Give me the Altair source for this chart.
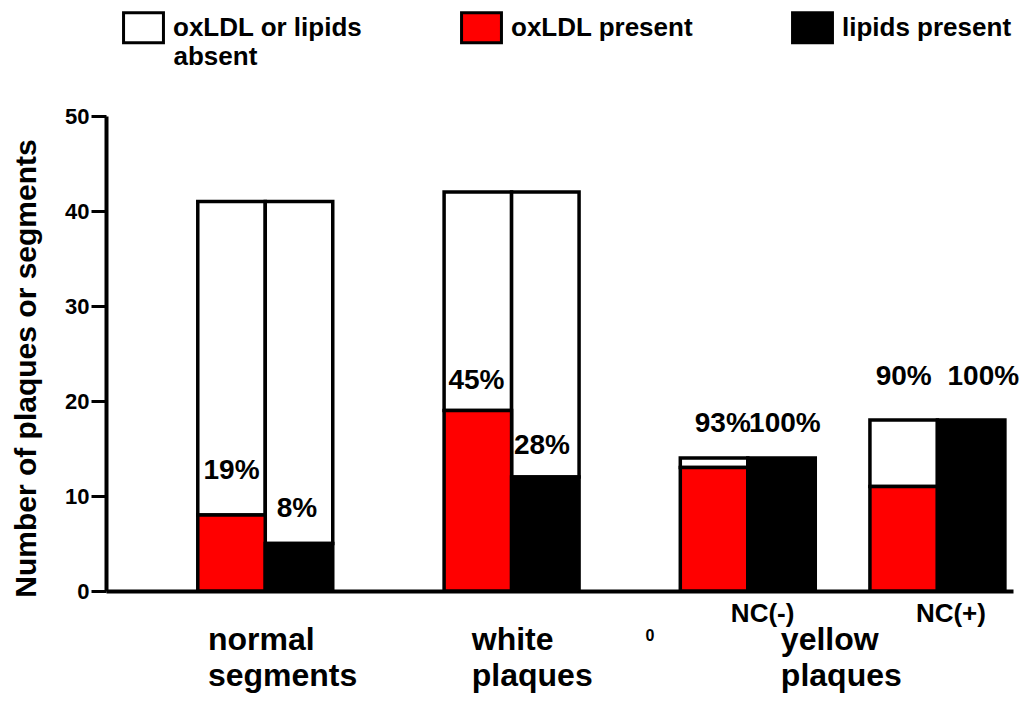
import altair as alt
import pandas as pd

# ---- data ----
legend_labels = ["oxLDL or lipids absent", "oxLDL present", "lipids present"]
legend_colors = ["white", "#ff0000", "black"]

group_centers = [2.36, 6.01, 9.51, 12.32]   # position of each bar pair (bar-width units)
totals = [41, 42, 14, 18]
oxldl_present = [8, 19, 13, 11]
lipids_present = [5, 12, 14, 18]
oxldl_pct = ["19%", "45%", "93%", "90%"]
lipids_pct = ["8%", "28%", "100%", "100%"]
oxldl_pct_y = [12.6, 22.1, 17.6, 22.5]
lipids_pct_y = [8.6, 15.3, 17.6, 22.5]
oxldl_pct_dx = [0.0, -0.02, 0.13, 0.0]
lipids_pct_dx = [-0.03, -0.05, 0.05, 0.18]

category_lines = [["normal", "segments"], ["white", "plaques"], ["yellow", "plaques"]]
category_x = [1.51, 5.42, 10.0]
category_y = [-3.6, -3.6, -3.6]

sub_labels = ["NC(-)", "NC(+)"]
sub_x = [9.73, 12.52]
sub_y = [-2.42, -2.42]

stray_label = ["0"]
stray_x = [8.06]
stray_y = [-4.7]

# second line of the first legend entry
legend_wrap = ["absent"]
legend_wrap_x = [1.0]
legend_wrap_y = [56.2]

FONT = "Liberation Sans"

# ---- build tables ----
rows = []
for i, c in enumerate(group_centers):
    for kind, pres, x0 in (("oxLDL present", oxldl_present[i], c - 1),
                           ("lipids present", lipids_present[i], c)):
        if pres < totals[i]:
            rows.append(dict(x0=x0, x1=x0 + 1, y0=pres, y1=totals[i],
                             category=legend_labels[0], order=0))
        rows.append(dict(x0=x0, x1=x0 + 1, y0=0, y1=pres, category=kind, order=1))
bars = pd.DataFrame(rows)

pct_rows = []
for i, c in enumerate(group_centers):
    pct_rows.append(dict(x=c - 0.5 + oxldl_pct_dx[i], y=oxldl_pct_y[i], text=oxldl_pct[i]))
    pct_rows.append(dict(x=c + 0.5 + lipids_pct_dx[i], y=lipids_pct_y[i], text=lipids_pct[i]))
pct = pd.DataFrame(pct_rows)

cats = pd.DataFrame(dict(x=category_x, y=category_y,
                         text=["\n".join(l) for l in category_lines]))
subs = pd.DataFrame(dict(x=sub_x, y=sub_y, text=sub_labels))
stray = pd.DataFrame(dict(x=stray_x, y=stray_y, text=stray_label))
wrap = pd.DataFrame(dict(x=legend_wrap_x, y=legend_wrap_y, text=legend_wrap))

xscale = alt.Scale(domain=[0, 13.44], nice=False, zero=False)
yscale = alt.Scale(domain=[0, 50], nice=False)

label_expr = ("datum.label == 'oxLDL or lipids absent' ? "
              "'oxLDL or lipids' : datum.label")

bar_layer = alt.Chart(bars).mark_rect(stroke="black", strokeWidth=3.5).encode(
    x=alt.X("x0:Q", scale=xscale,
            axis=alt.Axis(labels=False, ticks=False, title=None, grid=False,
                          domainColor="black", domainWidth=4)),
    x2="x1:Q",
    y=alt.Y("y0:Q", scale=yscale,
            axis=alt.Axis(values=[0, 10, 20, 30, 40, 50], grid=False,
                          title="Number of plaques or segments",
                          titleFont=FONT, titleFontSize=30, titleFontWeight="bold",
                          titleColor="black", titlePadding=23, titleY=252,
                          labelFont=FONT, labelFontSize=22, labelFontWeight="bold",
                          labelColor="black", labelPadding=2,
                          tickSize=15, tickWidth=3, tickColor="black",
                          domainColor="black", domainWidth=4)),
    y2="y1:Q",
    color=alt.Color("category:N",
                    scale=alt.Scale(domain=legend_labels, range=legend_colors),
                    legend=alt.Legend(title=None, orient="none", legendX=21, legendY=-105,
                                      direction="horizontal", columns=3, columnPadding=92,
                                      padding=0,
                                      symbolType="M-1.33,-1L1.33,-1L1.33,1L-1.33,1Z",
                                      symbolSize=900, symbolStrokeColor="black",
                                      symbolStrokeWidth=3, symbolOpacity=1,
                                      labelFont=FONT, labelFontSize=26,
                                      labelFontWeight="bold", labelColor="black",
                                      labelOffset=13, labelLimit=400,
                                      labelExpr=label_expr)),
    order="order:Q",
)

def text_layer(df, size, align="center", baseline="middle", line_height=None):
    kw = dict(font=FONT, fontSize=size, fontWeight="bold", color="black",
              align=align, baseline=baseline)
    if line_height:
        kw["lineBreak"] = "\n"
        kw["lineHeight"] = line_height
    return alt.Chart(df).mark_text(**kw).encode(
        x=alt.X("x:Q", scale=xscale), y=alt.Y("y:Q", scale=yscale), text="text:N")

chart = alt.layer(
    bar_layer,
    text_layer(pct, 28),
    text_layer(cats, 32, align="left", baseline="top", line_height=36),
    text_layer(subs, 26),
    text_layer(stray, 16),
    text_layer(wrap, 26, align="left"),
).properties(
    width=907, height=475, padding={"left": 3, "top": 3, "right": 0, "bottom": 0}
).configure(background="white").configure_view(stroke=None)

chart.save("out.html", embed_options={"renderer": "svg", "actions": False})
